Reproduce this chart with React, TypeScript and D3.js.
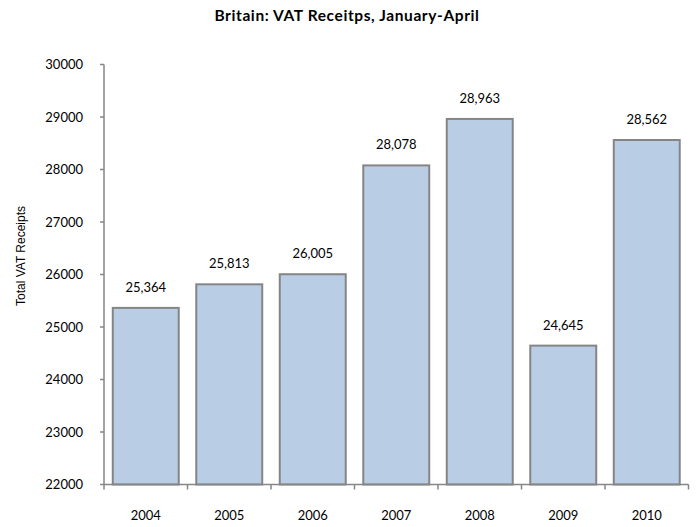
import React from "react";
import * as d3 from "d3";

const years = ["2004", "2005", "2006", "2007", "2008", "2009", "2010"];
const receipts = [25364, 25813, 26005, 28078, 28963, 24645, 28562];
const yTicks = [22000, 23000, 24000, 25000, 26000, 27000, 28000, 29000, 30000];

const W = 696;
const H = 527;
const left = 104;
const right = 688.5;
const top = 64.5;
const bottom = 484.5;
const font = "Lato, 'Open Sans', sans-serif";
const axisColor = "#868686";

export default function App() {
  const x = d3.scaleBand<string>().domain(years).range([left, right]).paddingInner(0.21).paddingOuter(0.105);
  const y = d3.scaleLinear().domain([22000, 30000]).range([bottom, top]);
  const step = x.step();
  const fmt = d3.format(",");
  return (
    <svg width={W} height={H} style={{ position: "absolute", left: 0, top: 0, background: "#fff" }}>
      <text
        x={347}
        y={21}
        textAnchor="middle"
        fontFamily={font}
        fontWeight="bold"
        fontSize={15.5}
        letterSpacing={0.6}
        fill="#000"
      >
        Britain: VAT Receitps, January-April
      </text>
      <text
        transform={`translate(24.5,256) rotate(-90)`}
        textAnchor="middle"
        fontFamily="'Liberation Sans', Arial, sans-serif"
        fontSize={12}
        fill="#000"
      >
        Total VAT Receipts
      </text>
      {receipts.map((v, i) => {
        const bx = x(years[i])!;
        return (
          <g key={years[i]}>
            <rect
              x={bx}
              y={y(v)}
              width={x.bandwidth()}
              height={bottom - y(v)}
              fill="#B9CDE5"
              stroke="#858585"
              strokeWidth={2}
            />
            <text
              x={bx + x.bandwidth() / 2}
              y={y(v) - 16}
              textAnchor="middle"
              fontFamily={font}
              fontSize={13}
              fill="#000"
            >
              {fmt(v)}
            </text>
          </g>
        );
      })}
      <line x1={left} x2={left} y1={top} y2={bottom} stroke={axisColor} strokeWidth={1.5} />
      {yTicks.map((t) => (
        <g key={t}>
          <line x1={left - 4} x2={left} y1={y(t)} y2={y(t)} stroke={axisColor} strokeWidth={1.5} />
          <text x={left - 21} y={y(t) + 4.5} textAnchor="end" fontFamily={font} fontSize={13} fill="#000">
            {t}
          </text>
        </g>
      ))}
      <line x1={left} x2={right} y1={bottom} y2={bottom} stroke={axisColor} strokeWidth={1.5} />
      {d3.range(years.length + 1).map((i) => (
        <line
          key={i}
          x1={left + i * step}
          x2={left + i * step}
          y1={bottom}
          y2={bottom + 5}
          stroke={axisColor}
          strokeWidth={1.5}
        />
      ))}
      {years.map((yr) => (
        <text
          key={yr}
          x={x(yr)! + x.bandwidth() / 2}
          y={bottom + 35}
          textAnchor="middle"
          fontFamily={font}
          fontSize={13}
          fill="#000"
        >
          {yr}
        </text>
      ))}
    </svg>
  );
}
